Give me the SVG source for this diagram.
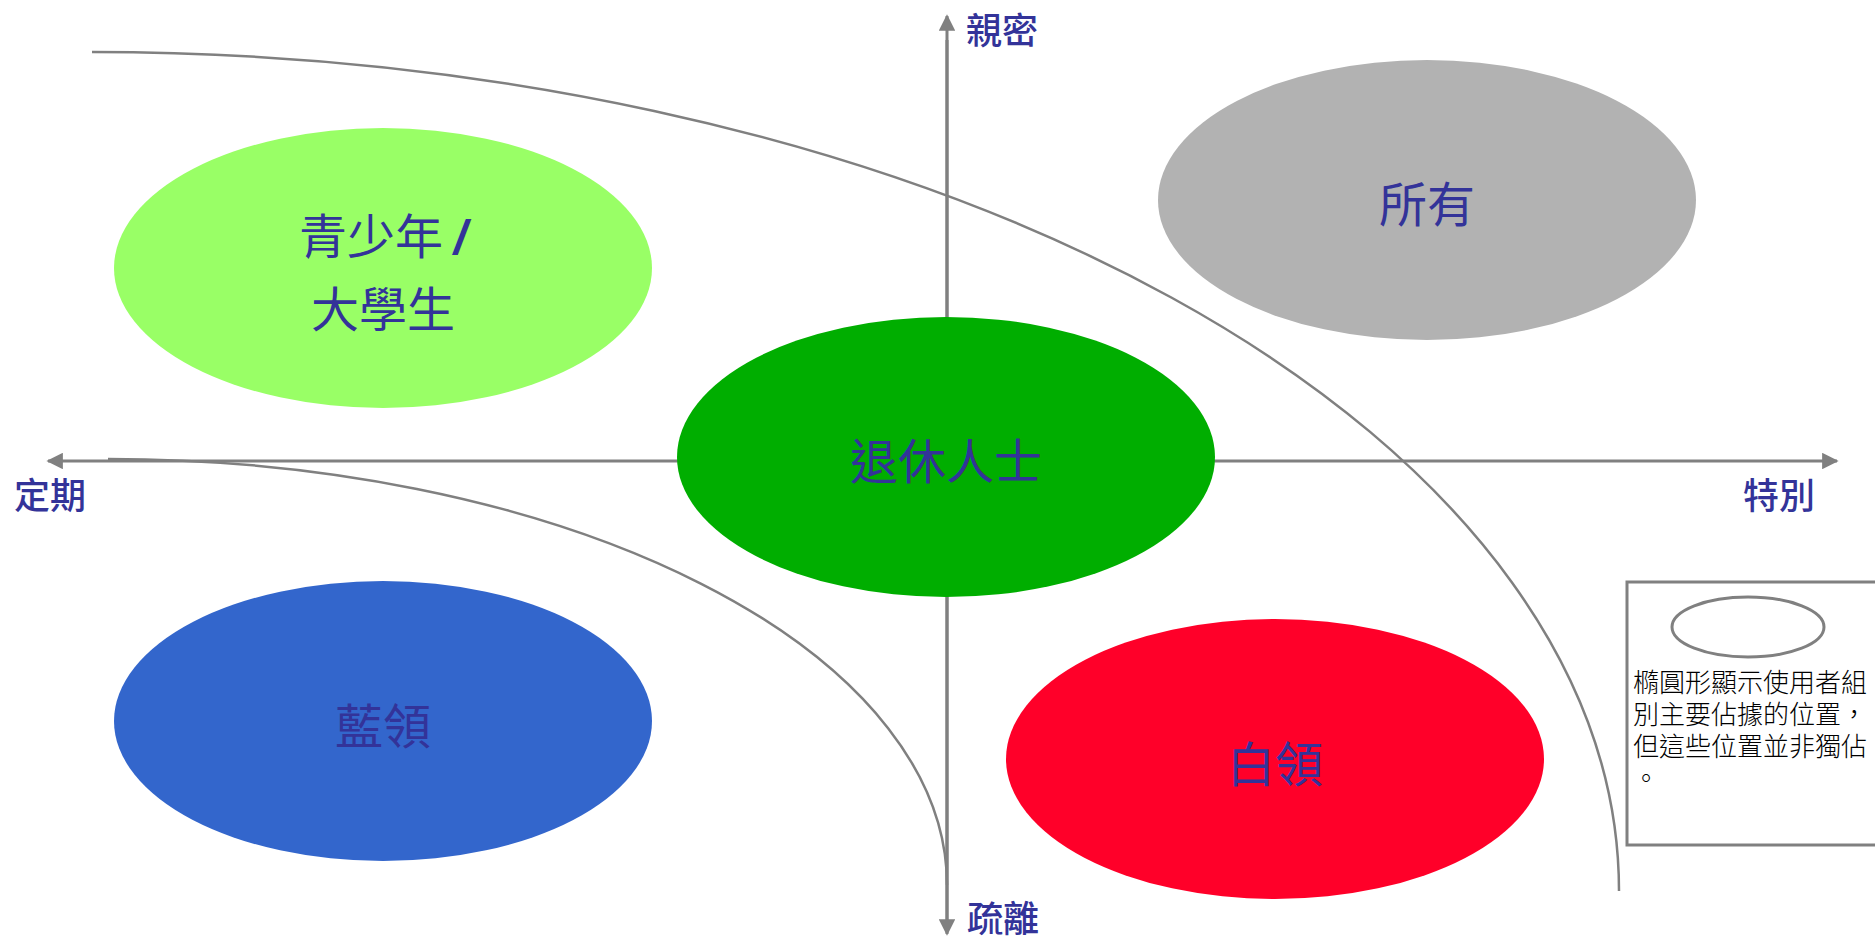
<svg xmlns="http://www.w3.org/2000/svg" width="1875" height="941" viewBox="0 0 1875 941">
<style>
.axis{stroke:#808080;stroke-width:3;fill:none}
.arc{stroke:#808080;stroke-width:2.5;fill:none}
.lbl{font-family:"Noto Sans CJK TC","Noto Sans CJK SC",sans-serif;fill:#333399;font-size:36px;font-weight:500}
.big{font-family:"Noto Sans CJK TC","Noto Sans CJK SC",sans-serif;fill:#333399;font-size:48px;text-anchor:middle}
.leg{font-family:"Noto Sans CJK TC","Noto Sans CJK SC",sans-serif;fill:#000;font-size:26px;font-weight:300}
</style>
<defs>
<marker id="arr" viewBox="0 0 10 10" refX="9" refY="5" markerWidth="5.5" markerHeight="5.5" markerUnits="strokeWidth" orient="auto">
<path d="M0,0 L10,5 L0,10 Z" fill="#808080"/>
</marker>
</defs>
<rect width="1875" height="941" fill="#fff"/>
<g id="connectors">
<line class="axis" x1="947" y1="920" x2="947" y2="16" marker-end="url(#arr)"/>
<line class="axis" x1="947" y1="40" x2="947" y2="934" marker-end="url(#arr)"/>
<line class="axis" x1="947" y1="461" x2="48" y2="461" marker-end="url(#arr)"/>
<line class="axis" x1="947" y1="461" x2="1837" y2="461" marker-end="url(#arr)"/>
<path class="arc" d="M92,52 A1527,839 0 0 1 1619,891"/>
<path class="arc" d="M108,459 A839,426 0 0 1 947,885"/>
</g>
<g id="axis-labels">
<text class="lbl" x="966" y="44">親密</text>
<text class="lbl" x="14" y="509">定期</text>
<text class="lbl" x="1743" y="509">特別</text>
<text class="lbl" x="967" y="932">疏離</text>
</g>
<g id="youth">
<ellipse cx="383" cy="268" rx="269" ry="140" fill="#99FF66"/>
<text class="big" x="383" y="254">青少年 <tspan font-family="Liberation Sans" font-weight="bold" font-style="italic">/</tspan></text>
<text class="big" x="383" y="327">大學生</text>
</g>
<g id="all">
<ellipse cx="1427" cy="200" rx="269" ry="140" fill="#B2B2B2"/>
<text class="big" x="1427" y="222">所有</text>
</g>
<g id="retired">
<ellipse cx="946" cy="457" rx="269" ry="140" fill="#00AE00"/>
<text class="big" x="946" y="479">退休人士</text>
</g>
<g id="bluecollar">
<ellipse cx="383" cy="721" rx="269" ry="140" fill="#3366CC"/>
<text class="big" x="383" y="744">藍領</text>
</g>
<g id="whitecollar">
<ellipse cx="1275" cy="759" rx="269" ry="140" fill="#FF0029"/>
<text class="big" x="1275" y="782">白領</text>
</g>
<g id="legend">
<rect x="1627" y="582" width="270" height="263" fill="#fff" stroke="#808080" stroke-width="3"/>
<ellipse cx="1748" cy="627" rx="76" ry="30" fill="#fff" stroke="#808080" stroke-width="3"/>
<text class="leg" x="1633" y="692">橢圓形顯示使用者組</text>
<text class="leg" x="1633" y="724">別主要佔據的位置，</text>
<text class="leg" x="1633" y="756">但這些位置並非獨佔</text>
<text class="leg" x="1633" y="788">。</text>
</g>
</svg>
